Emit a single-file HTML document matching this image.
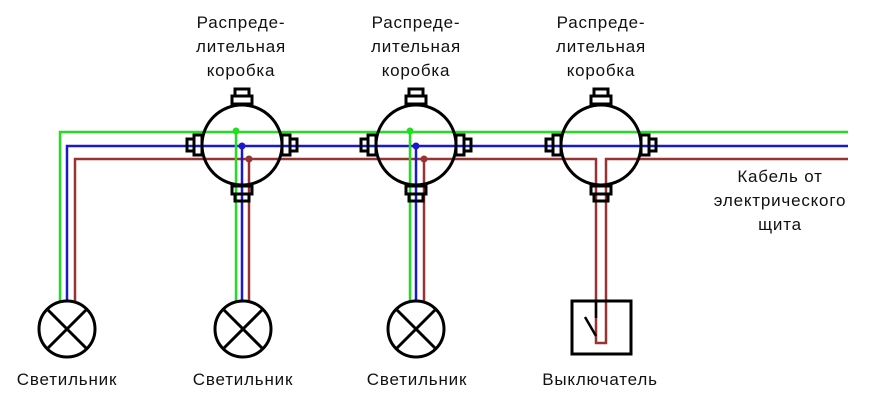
<!DOCTYPE html>
<html><head><meta charset="utf-8"><style>
html,body{margin:0;padding:0;background:#fff;}
svg{display:block;}
text{font-family:"Liberation Sans",sans-serif;font-size:17px;fill:#111;text-anchor:middle;letter-spacing:0.8px;}
</style></head><body>
<svg width="870" height="400" viewBox="0 0 870 400" xmlns="http://www.w3.org/2000/svg">
<defs>
<g id="box" stroke="#000" stroke-width="3" fill="none">
  <circle cx="0" cy="0" r="40"/>
  <rect x="-7" y="-56" width="14" height="7"/>
  <rect x="-10" y="-49" width="20" height="8"/>
  <rect x="-7" y="49" width="14" height="7"/>
  <rect x="-10" y="41" width="20" height="8"/>
  <rect x="-55" y="-6" width="7" height="12"/>
  <rect x="-48" y="-10" width="8" height="20"/>
  <rect x="48" y="-6" width="7" height="12"/>
  <rect x="40" y="-10" width="8" height="20"/>
</g>
<g id="lamp" stroke="#000" stroke-width="3" fill="none">
  <circle cx="0" cy="0" r="28"/>
  <line x1="-20" y1="-20" x2="20" y2="20"/>
  <line x1="20" y1="-20" x2="-20" y2="20"/>
</g>
</defs>
<g fill="none" stroke-width="2.5">
  <polyline points="848,132 60,132 60,301" stroke="#22dd22"/>
  <polyline points="848,146 67,146 67,301" stroke="#1a1acc"/>
  <polyline points="75,301 75,159 596,159 596,343 606,343 606,159 848,159" stroke="#993333"/>
  <line x1="236" y1="132" x2="236" y2="301" stroke="#22dd22"/>
  <line x1="242" y1="146" x2="242" y2="301" stroke="#1a1acc"/>
  <line x1="249" y1="159" x2="249" y2="301" stroke="#993333"/>
  <line x1="410" y1="132" x2="410" y2="301" stroke="#22dd22"/>
  <line x1="416" y1="146" x2="416" y2="301" stroke="#1a1acc"/>
  <line x1="424" y1="159" x2="424" y2="301" stroke="#993333"/>
</g>
<use href="#box" x="242" y="145"/>
<use href="#box" x="416" y="145"/>
<use href="#box" x="601" y="145"/>
<circle cx="236" cy="131" r="3.5" fill="#22dd22"/>
<circle cx="242" cy="146" r="3.5" fill="#1a1acc"/>
<circle cx="249" cy="159" r="3.5" fill="#993333"/>
<circle cx="410" cy="131" r="3.5" fill="#22dd22"/>
<circle cx="416" cy="146" r="3.5" fill="#1a1acc"/>
<circle cx="424" cy="159" r="3.5" fill="#993333"/>
<use href="#lamp" x="67" y="329"/>
<use href="#lamp" x="243" y="329"/>
<use href="#lamp" x="416" y="329"/>
<rect x="572" y="301" width="59" height="53" fill="none" stroke="#000" stroke-width="3"/>
<g stroke="#000" stroke-width="2.5" fill="none">
  <line x1="596" y1="301" x2="596" y2="318"/>
  <line x1="585" y1="317" x2="596" y2="336"/>
</g>
<text x="241" y="28">Распреде-</text>
<text x="241" y="52">лительная</text>
<text x="241" y="76">коробка</text>
<text x="416" y="28">Распреде-</text>
<text x="416" y="52">лительная</text>
<text x="416" y="76">коробка</text>
<text x="601" y="28">Распреде-</text>
<text x="601" y="52">лительная</text>
<text x="601" y="76">коробка</text>
<text x="780" y="182">Кабель от</text>
<text x="780" y="206">электрического</text>
<text x="780" y="230">щита</text>
<text x="67" y="385">Светильник</text>
<text x="243" y="385">Светильник</text>
<text x="417" y="385">Светильник</text>
<text x="600" y="385">Выключатель</text>
</svg>
</body></html>
